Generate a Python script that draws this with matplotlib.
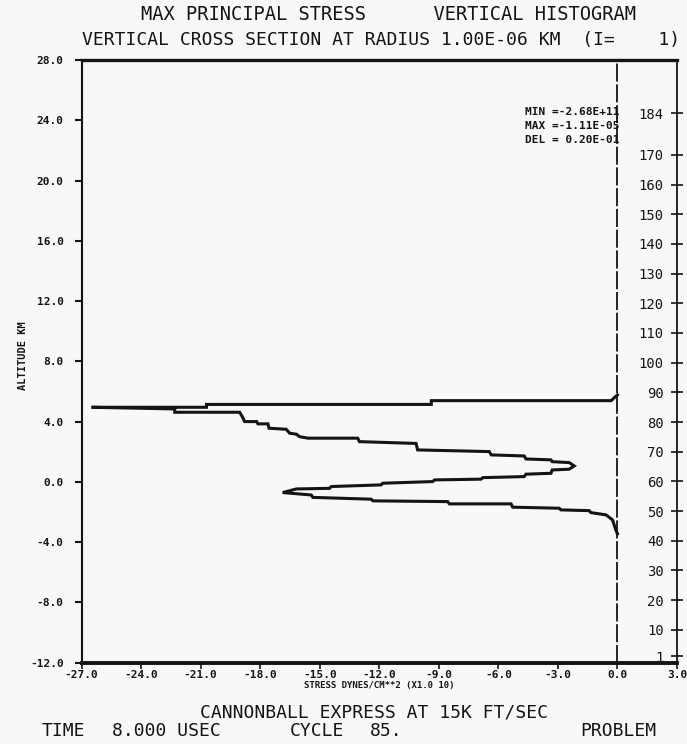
import matplotlib.pyplot as plt
import numpy as np

# stress profile (units of 1.0E10 dynes/cm**2) vs altitude in km
stress = [0.00, -0.32, -9.38, -9.38, -20.71, -20.71, -26.50, -22.31, -22.31, -19.04,
          -18.89, -18.79, -18.18, -18.12, -17.61, -17.56, -16.69, -16.52, -16.17, -16.02,
          -15.60, -13.09, -13.00, -10.15, -10.07, -6.46, -6.36, -4.70, -4.61, -3.35,
          -3.29, -2.43, -2.18, -2.43, -3.29, -3.35, -4.61, -4.70, -6.79, -6.87,
          -9.22, -9.31, -11.83, -11.91, -14.42, -14.51, -16.18, -16.87, -15.43, -15.35,
          -12.41, -12.33, -8.56, -8.47, -5.36, -5.28, -2.93, -2.85, -1.42, -1.34,
          -0.58, -0.25, -0.08, 0.00]
altitude = [5.77, 5.39, 5.39, 5.14, 5.14, 4.95, 4.95, 4.84, 4.62, 4.62,
            4.29, 4.00, 4.00, 3.85, 3.85, 3.56, 3.49, 3.23, 3.16, 3.00,
            2.90, 2.90, 2.67, 2.55, 2.12, 2.01, 1.79, 1.72, 1.52, 1.46,
            1.34, 1.28, 1.06, 0.84, 0.79, 0.57, 0.51, 0.35, 0.28, 0.18,
            0.13, 0.02, -0.09, -0.20, -0.31, -0.43, -0.47, -0.71, -0.87, -1.03,
            -1.15, -1.26, -1.31, -1.46, -1.46, -1.68, -1.75, -1.86, -1.91, -2.04,
            -2.19, -2.52, -3.19, -3.45]

x_ticks = [-27, -24, -21, -18, -15, -12, -9, -6, -3, 0, 3]
y_ticks = [-12, -8, -4, 0, 4, 8, 12, 16, 20, 24, 28]
cell_ticks = [1, 10, 20, 30, 40, 50, 60, 70, 80, 90, 100, 110, 120, 130, 140, 150, 160, 170, 184]

stats = ["MIN =-2.68E+11", "MAX =-1.11E-05", "DEL = 0.20E-01"]

# footer words and their left edges (figure fraction)
footer = ["TIME", "8.000 USEC", "CYCLE", "85.", "PROBLEM"]
footer_x = [0.061, 0.163, 0.422, 0.539, 0.844]

mono = "DejaVu Sans Mono"
ink = "#141414"
paper = "#f8f8f6"

fig = plt.figure(figsize=(6.87, 7.44), dpi=100, facecolor=paper)
ax = fig.add_axes([0.1189, 0.1093, 0.8665, 0.8101], facecolor=paper)

ax.plot(stress, altitude, color=ink, lw=2.2, solid_joinstyle="miter")
ax.axvline(0, color=ink, lw=1.3, ls=(0, (10, 1.5)))

ax.set_xlim(-27, 3)
ax.set_ylim(-12, 28)
ax.set_xticks(x_ticks)
ax.set_xticklabels([f"{v:.1f}" for v in x_ticks])
ax.set_yticks(y_ticks)
ax.set_yticklabels([f"{v:.1f}" for v in y_ticks])
ax.tick_params(axis="y", direction="out", length=5, width=1.5, pad=8, colors=ink)
ax.tick_params(axis="x", direction="out", length=4, width=1.2, pad=1, colors=ink)
for lbl in ax.get_xticklabels() + ax.get_yticklabels():
    lbl.set_fontfamily(mono)
    lbl.set_fontweight("bold")
    lbl.set_fontsize(8)

for side, w in [("left", 1.5), ("right", 1.3), ("top", 2.4), ("bottom", 2.8)]:
    ax.spines[side].set_linewidth(w)
    ax.spines[side].set_color(ink)

ax.set_ylabel("ALTITUDE KM", fontfamily=mono, fontweight="bold", fontsize=7.5, color=ink)
ax.yaxis.set_label_coords(-0.090, 0.51)
ax.set_xlabel("STRESS DYNES/CM**2 (X1.0 10)", fontfamily=mono, fontweight="bold",
              fontsize=6.5, color=ink)
ax.xaxis.set_label_coords(0.50, -0.030)

# cell index scale on the right spine
ax2 = ax.twinx()
ax2.set_ylim(-1.1, 202.0)
ax2.set_yticks(cell_ticks)
ax2.set_yticklabels([str(v) for v in cell_ticks])
ax2.tick_params(axis="y", direction="inout", length=9, width=1.2, pad=-14,
                labelsize=10, colors=ink)
for lbl in ax2.get_yticklabels():
    lbl.set_fontfamily(mono)
    lbl.set_ha("right")
for s in ax2.spines.values():
    s.set_visible(False)

for i, line in enumerate(stats):
    ax.text(0.904, 0.914 - i * 0.0235, line, transform=ax.transAxes, ha="right",
            va="center", fontfamily=mono, fontweight="bold", fontsize=8, color=ink)

fig.text(0.565, 0.980, "MAX PRINCIPAL STRESS      VERTICAL HISTOGRAM", ha="center",
         va="center", fontfamily=mono, fontsize=13.5, color=ink)
fig.text(0.555, 0.946, "VERTICAL CROSS SECTION AT RADIUS 1.00E-06 KM  (I=    1)",
         ha="center", va="center", fontfamily=mono, fontsize=13, color=ink)
fig.text(0.545, 0.043, "CANNONBALL EXPRESS AT 15K FT/SEC", ha="center", va="center",
         fontfamily=mono, fontsize=13, color=ink)
for word, xf in zip(footer, footer_x):
    fig.text(xf, 0.0175, word, ha="left", va="center", fontfamily=mono, fontsize=13,
             color=ink)

fig.savefig("out.png", dpi=100, facecolor=paper)
